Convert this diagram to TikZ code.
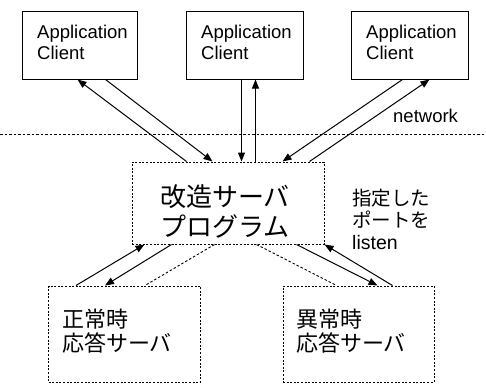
\documentclass[tikz,border=0pt]{standalone}
\usepackage{fontspec}
\setmainfont{Liberation Sans}
\newfontfamily\jp{Noto Sans CJK JP}
\usetikzlibrary{arrows.meta}
\begin{document}
\begin{tikzpicture}[x=1pt,y=-1pt,
  solidbox/.style={draw,line width=1pt,inner sep=0pt},
  dotbox/.style={draw,line width=1pt,inner sep=0pt,dash pattern=on 2pt off 1.6pt},
  lbl/.style={inner sep=0pt,anchor=west,align=left},
  conn/.style={line width=1pt},
  arr/.style={conn,-{Triangle[length=9pt,width=7pt]}},
  dconn/.style={line width=0.9pt,dash pattern=on 2.5pt off 2pt}]
\useasboundingbox (0,0) rectangle (486,383);
% client boxes
\node[solidbox,minimum width=115pt,minimum height=68pt] (c1) at (79.5,45) {};
\node[solidbox,minimum width=117pt,minimum height=68pt] (c2) at (244.5,45) {};
\node[solidbox,minimum width=117pt,minimum height=68pt] (c3) at (409.5,45) {};
\node[lbl,font=\fontsize{18.5}{21}\selectfont] (c1t) at (37,42) {Application\\Client};
\node[lbl,font=\fontsize{18.5}{21}\selectfont] (c2t) at (201,42) {Application\\Client};
\node[lbl,font=\fontsize{18.5}{21}\selectfont] (c3t) at (366,42) {Application\\Client};
% network line
\coordinate (nl) at (0,134);
\coordinate (nr) at (486,134);
\draw[dconn] (nl) -- (nr);
\node[lbl,font=\fontsize{18.5}{21}\selectfont] (net) at (393,116) {network};
% server
\node[dotbox,minimum width=192pt,minimum height=82pt] (srv) at (228,203) {};
\node[lbl,font=\jp\fontsize{26}{30}\selectfont] (srvt) at (160,211) {改造サーバ\\プログラム};
\node[lbl,font=\fontsize{19.5}{22}\selectfont] (port) at (352,219) {{\jp 指定した}\\{\jp ポートを}\\listen};
% response servers
\node[dotbox,minimum width=152pt,minimum height=96pt] (ok) at (124.5,334) {};
\node[dotbox,minimum width=151pt,minimum height=96pt] (ng) at (358.5,334) {};
\node[lbl,font=\jp\fontsize{22}{24}\selectfont] (okt) at (62,331) {正常時\\応答サーバ};
\node[lbl,font=\jp\fontsize{22}{24}\selectfont] (ngt) at (296,331) {異常時\\応答サーバ};
% top connectors
\draw[arr] ([xshift=55pt]srv.north west) -- ([xshift=56pt]c1.south west);
\draw[arr] ([xshift=84pt]c1.south west) -- ([xshift=81pt]srv.north west);
\draw[arr] ([xshift=56pt]c2.south west) -- ([xshift=110pt]srv.north west);
\draw[arr] ([xshift=124pt]srv.north west) -- ([xshift=70pt]c2.south west);
\draw[arr] ([xshift=52pt]c3.south west) -- ([xshift=151pt]srv.north west);
\draw[arr] ([xshift=178pt]srv.north west) -- ([xshift=79pt]c3.south west);
% bottom connectors
\draw[arr] ([xshift=28pt]ok.north west) -- ([xshift=13pt]srv.south west);
\draw[arr] ([xshift=40pt]srv.south west) -- ([xshift=57pt]ok.north west);
\draw[dconn] ([xshift=83pt]srv.south west) -- ([xshift=97pt]ok.north west);
\draw[dconn] ([xshift=125pt]srv.south west) -- ([xshift=54pt]ng.north west);
\draw[arr] ([xshift=165pt]srv.south west) -- ([xshift=95pt]ng.north west);
\draw[arr] ([xshift=110pt]ng.north west) -- ([xshift=193pt]srv.south west);
\end{tikzpicture}
\end{document}
